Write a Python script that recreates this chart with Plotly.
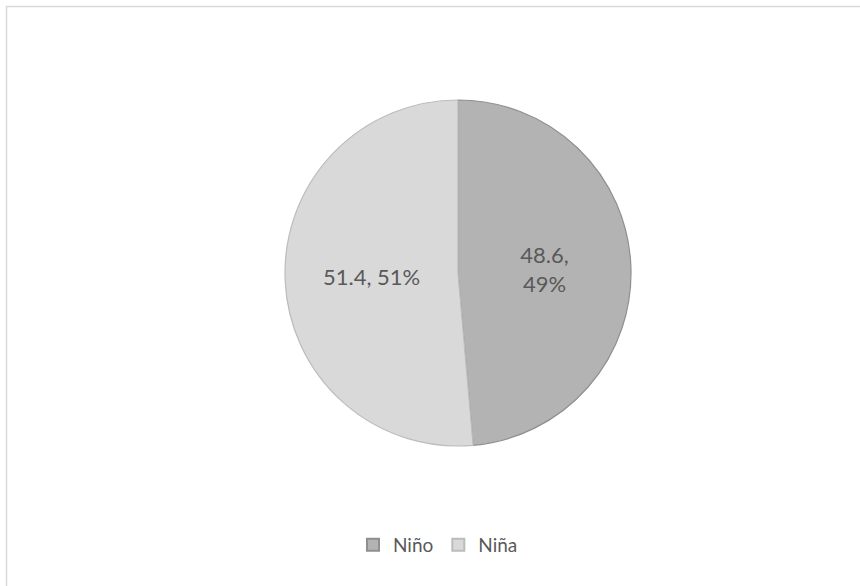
import plotly.graph_objects as go

# Distribution by sex
labels = ["Niño", "Niña"]
values = [48.6, 51.4]
label_templates = ["%{value},<br>%{percent:.0%}", "%{value}, %{percent:.0%}"]

W, H = 860, 586

fig = go.Figure(
    go.Pie(
        labels=labels,
        values=values,
        sort=False,
        direction="clockwise",
        rotation=0,
        texttemplate=label_templates,
        textposition="inside",
        insidetextorientation="horizontal",
        textfont=dict(family="Lato, Open Sans, sans-serif", size=22, color="#595959"),
        marker=dict(
            colors=["#b3b3b3", "#d9d9d9"],
            line=dict(color=["#8f8f8f", "#bcbcbc"], width=1.2),
        ),
        domain=dict(
            x=[(458 - 173) / W, (458 + 173) / W],
            y=[1 - 446 / H, 1 - 100 / H],
        ),
        hoverinfo="label+value+percent",
    )
)

fig.update_layout(
    width=W,
    height=H,
    margin=dict(l=0, r=0, t=0, b=0),
    paper_bgcolor="white",
    plot_bgcolor="white",
    showlegend=True,
    legend=dict(
        orientation="h",
        x=438 / W,
        xanchor="center",
        y=1 - 545 / H,
        yanchor="middle",
        font=dict(family="Lato, Open Sans, sans-serif", size=19, color="#595959"),
        itemsizing="constant",
        itemwidth=30,
        traceorder="normal",
    ),
    shapes=[
        dict(
            type="rect",
            xref="paper",
            yref="paper",
            x0=6.5 / W,
            x1=1.02,
            y0=-0.02,
            y1=1 - 6.5 / H,
            line=dict(color="#d9d9d9", width=1.5),
            fillcolor="rgba(0,0,0,0)",
        )
    ],
)

fig.write_html("out.html")
